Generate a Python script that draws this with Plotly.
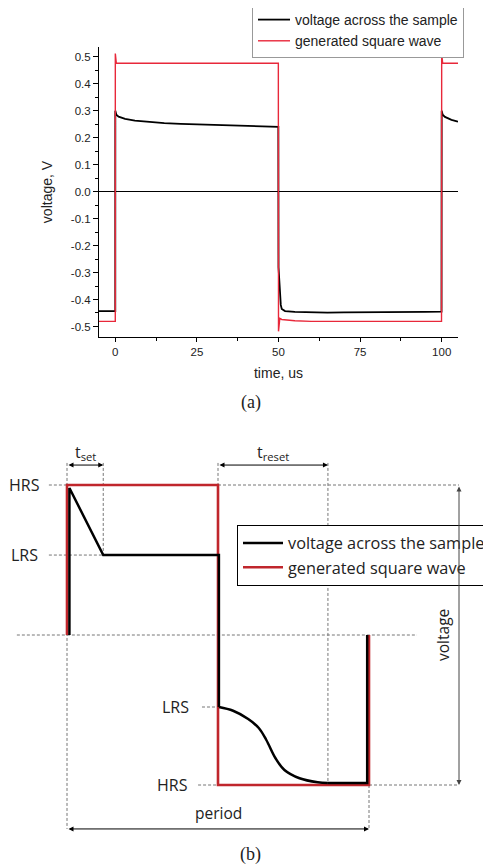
import plotly.graph_objects as go

# ---------------- Panel (a): measured data ----------------
T_SAMPLE = [-5, -0.01, 0, 0.3, 1, 3, 6, 10, 15, 20, 25, 30, 35, 40, 45, 49.95,
            50, 50.3, 50.7, 51, 52, 55, 60, 65, 70, 75, 80, 85, 90, 95, 99.95,
            100, 100.3, 101, 103, 105]
V_SAMPLE = [-0.443, -0.443, 0.30, 0.285, 0.278, 0.27, 0.263, 0.258, 0.254, 0.251, 0.249, 0.247, 0.245, 0.243, 0.241, 0.240,
            -0.28, -0.36, -0.42, -0.435, -0.443, -0.446, -0.448, -0.449, -0.448, -0.448, -0.447, -0.447, -0.446, -0.446, -0.445,
            0.30, 0.285, 0.277, 0.266, 0.259]

T_SQUARE = [-5, -0.01, 0, 0.3, 1, 49.95, 50, 50.4, 51, 55, 60, 99.95, 100, 100.3, 101, 105]
V_SQUARE = [-0.481, -0.481, 0.512, 0.476, 0.476, 0.476, -0.518, -0.47, -0.474, -0.479, -0.481, -0.481, 0.512, 0.476, 0.476, 0.476]

X_TICKS = [0, 25, 50, 75, 100]
Y_TICKS = [0.5, 0.4, 0.3, 0.2, 0.1, 0.0, -0.1, -0.2, -0.3, -0.4, -0.5]
Y_TICK_TEXT = ["0.5", "0.4", "0.3", "0.2", "0.1", "0.0", "-0.1", "-0.2", "-0.3", "-0.4", "-0.5"]

# ---------------- Panel (b): schematic (time in periods, voltage in units of HRS level) ----------------
T_SET = 0.12
T_RESET = 0.364
LRS_HIGH = 0.533
LRS_LOW = -0.48
HRS_HIGH = 1.0
HRS_LOW = -1.0

SCH_T_SQUARE = [0, 0, 0.5, 0.5, 1.0, 1.0]
SCH_V_SQUARE = [0, HRS_HIGH, HRS_HIGH, HRS_LOW, HRS_LOW, 0]

# straight parts of the sample voltage
SCH_T_SAMPLE = [0.008, 0.008, T_SET, 0.503, 0.503]
SCH_V_SAMPLE = [0, 0.98, LRS_HIGH, LRS_HIGH, LRS_LOW]
# smooth reset transient and tail
SCH_T_RESET_CURVE = [0.503, 0.55, 0.60, 0.635, 0.66, 0.69, 0.72, 0.77, 0.83, 0.864]
SCH_V_RESET_CURVE = [LRS_LOW, -0.505, -0.56, -0.62, -0.70, -0.82, -0.90, -0.955, -0.982, -0.987]
SCH_T_TAIL = [0.864, 0.994, 0.994]
SCH_V_TAIL = [-0.987, -0.987, 0]

OFF = 8  # page body margin
W, H = 491 - OFF, 868 - OFF


def px(x):
    return (x - OFF) / W


def py(y):
    return 1 - (y - OFF) / H


fig = go.Figure()

fig.add_trace(go.Scatter(x=T_SAMPLE, y=V_SAMPLE, mode="lines", name="voltage across the sample",
                         line=dict(color="black", width=1.8), xaxis="x", yaxis="y", legend="legend"))
fig.add_trace(go.Scatter(x=T_SQUARE, y=V_SQUARE, mode="lines", name="generated square wave",
                         line=dict(color="#e8283a", width=1.4), xaxis="x", yaxis="y", legend="legend"))

fig.add_trace(go.Scatter(x=SCH_T_SQUARE, y=SCH_V_SQUARE, mode="lines", name="generated square wave",
                         line=dict(color="#c0262c", width=2.6), xaxis="x2", yaxis="y2",
                         legend="legend2", legendrank=2))
fig.add_trace(go.Scatter(x=SCH_T_SAMPLE, y=SCH_V_SAMPLE, mode="lines", name="voltage across the sample",
                         line=dict(color="black", width=2.5), xaxis="x2", yaxis="y2",
                         legend="legend2", legendrank=1, legendgroup="s"))
fig.add_trace(go.Scatter(x=SCH_T_RESET_CURVE, y=SCH_V_RESET_CURVE, mode="lines", showlegend=False,
                         line=dict(color="black", width=2.5, shape="spline", smoothing=1.0),
                         xaxis="x2", yaxis="y2", legend="legend2", legendgroup="s"))
fig.add_trace(go.Scatter(x=SCH_T_TAIL, y=SCH_V_TAIL, mode="lines", showlegend=False,
                         line=dict(color="black", width=2.5),
                         xaxis="x2", yaxis="y2", legend="legend2", legendgroup="s"))

axis_font = dict(family="Liberation Sans, Arial", size=11.5, color="#222")

fig.update_layout(
    width=W, height=H,
    margin=dict(l=0, r=0, t=0, b=0, autoexpand=False),
    paper_bgcolor="white", plot_bgcolor="white",
    showlegend=True,
    xaxis=dict(domain=[px(99), px(458)], range=[-5, 105], anchor="y",
               tickvals=X_TICKS, ticks="outside", ticklen=4, tickwidth=1, tickcolor="black",
               minor=dict(dtick=12.5, tick0=0, ticks="outside", ticklen=3, tickcolor="black"),
               showline=True, linecolor="black", linewidth=1, showgrid=False, zeroline=False,
               tickfont=axis_font,
               title=dict(text="time, us", font=dict(family="Liberation Sans, Arial", size=14, color="#222"), standoff=11)),
    yaxis=dict(domain=[py(337), py(47)], range=[-0.539, 0.536], anchor="x",
               tickvals=Y_TICKS, ticktext=Y_TICK_TEXT, ticks="outside", ticklen=5, tickwidth=1, tickcolor="black",
               minor=dict(dtick=0.05, tick0=0, ticks="outside", ticklen=3, tickcolor="black"),
               showline=True, linecolor="black", linewidth=1, showgrid=False,
               zeroline=True, zerolinecolor="black", zerolinewidth=1,
               tickfont=axis_font,
               title=dict(text="voltage, V", font=dict(family="Liberation Sans, Arial", size=14, color="#222"), standoff=14)),
    xaxis2=dict(domain=[0, 1], range=[-(67 - OFF) / 302, (491 - 67) / 302], anchor="y2", visible=False),
    yaxis2=dict(domain=[0, py(440)], range=[-(868 - 635) / 150, (635 - 440) / 150], anchor="x2", visible=False),
    legend=dict(x=px(252), y=py(3), xanchor="left", yanchor="top",
                bordercolor="#999", borderwidth=1, bgcolor="white",
                font=dict(family="Liberation Sans, Arial", size=14, color="#222"),
                tracegroupgap=0, itemwidth=32),
    legend2=dict(x=px(237), y=py(525), xanchor="left", yanchor="top",
                 bordercolor="black", borderwidth=1, bgcolor="white",
                 font=dict(family="Open Sans", size=16.3, color="#222"),
                 tracegroupgap=0, itemwidth=40),
)

# dashed guide lines for schematic
DASH = dict(color="#777", width=1, dash="3px,2px")
ARROW_Y = 1.133
TOP_GUIDE = 1.147
VOLT_X = 1.298
PERIOD_Y = -1.293
guides = [
    (-0.06, HRS_HIGH, 0, HRS_HIGH),
    (-0.06, LRS_HIGH, T_SET, LRS_HIGH),
    (0.5, HRS_HIGH, VOLT_X, HRS_HIGH),
    (1.0, HRS_LOW, VOLT_X, HRS_LOW),
    (0.434, HRS_LOW, 0.5, HRS_LOW),
    (0.447, LRS_LOW, 0.5, LRS_LOW),
    (-0.166, 0, 1.159, 0),
    (0, TOP_GUIDE, 0, PERIOD_Y),
    (T_SET, TOP_GUIDE, T_SET, LRS_HIGH),
    (0.5, TOP_GUIDE, 0.5, HRS_HIGH),
    (0.5 + T_RESET, TOP_GUIDE, 0.5 + T_RESET, -0.987),
    (1.0, HRS_LOW, 1.0, PERIOD_Y),
]
for x0, y0, x1, y1 in guides:
    fig.add_shape(type="line", xref="x2", yref="y2", x0=x0, y0=y0, x1=x1, y1=y1, line=DASH, layer="below")


# double-headed arrows
def dbl_arrow(x0, y0, x1, y1, color="black"):
    fig.add_annotation(x=x1, y=y1, ax=x0, ay=y0, xref="x2", yref="y2", axref="x2", ayref="y2",
                       text="", showarrow=True, arrowhead=2, startarrowhead=2, arrowside="end+start",
                       arrowsize=1, startarrowsize=1, arrowwidth=1, arrowcolor=color)


dbl_arrow(0, ARROW_Y, T_SET, ARROW_Y)
dbl_arrow(0.5, ARROW_Y, 0.5 + T_RESET, ARROW_Y)
dbl_arrow(VOLT_X, HRS_HIGH, VOLT_X, HRS_LOW, color="#444")
dbl_arrow(0, PERIOD_Y, 1.0, PERIOD_Y)


def label(x, y, text, xanchor="center", angle=0, size=16):
    fig.add_annotation(x=x, y=y, xref="x2", yref="y2", text=text, showarrow=False,
                       xanchor=xanchor, yanchor="middle", textangle=angle,
                       font=dict(family="Open Sans", size=size, color="#222"))


label(-0.083, HRS_HIGH, "HRS", xanchor="right")
label(-0.089, LRS_HIGH, "LRS", xanchor="right")
label(0.41, LRS_LOW, "LRS", xanchor="right")
label(0.407, HRS_LOW, "HRS", xanchor="right")
label(T_SET / 2, 1.22, "t<sub>set</sub>", size=16)
label(0.5 + T_RESET / 2, 1.22, "t<sub>reset</sub>", size=16)
label(1.245, 0, "voltage", angle=-90, size=15.5)
label(0.5, -1.187, "period", size=15.5)

# panel captions
for yy, txt in [(403, "(a)"), (854, "(b)")]:
    fig.add_annotation(x=px(251), y=py(yy), xref="paper", yref="paper", text=txt, showarrow=False,
                       xanchor="center", yanchor="middle",
                       font=dict(family="Liberation Serif, Times New Roman", size=18, color="#222"))

fig.write_html("out.html")
